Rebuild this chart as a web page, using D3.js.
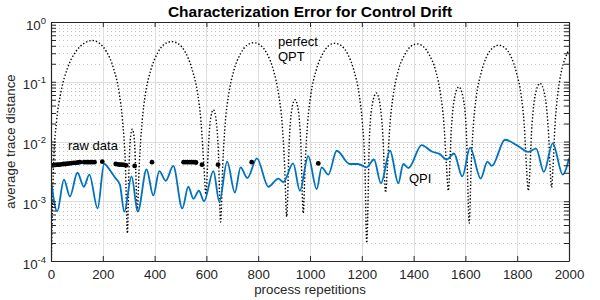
<!DOCTYPE html>
<html><head><meta charset="utf-8">
<script src="https://cdn.jsdelivr.net/npm/d3@7"></script>
<style>
body{margin:0;background:#fff;}
text{font-family:"Liberation Sans", Arial, Helvetica, sans-serif;}
</style></head><body>
<svg id="chart" width="600" height="300"></svg>
<script>
// ---------- data ----------
const title = "Characterization Error for Control Drift";
const xLabel = "process repetitions";
const yLabel = "average trace distance";
const xTicks = [0,200,400,600,800,1000,1200,1400,1600,1800,2000];
const yTickExps = [-4,-3,-2,-1,0];

// perfect QPT (dotted)
const qptX = [0,10,22,38,64,96,128,160,187,214,241,263,276,287,295,
  301,306,314,322,327,333,
  341,352,365,386,413,439,466,492,519,545,566,579,590,598,
  607,615,627,638,646,655,
  663,673,686,706,732,757,783,808,834,859,879,892,902,910,
  920,929,942,955,964,974,
  981,991,1003,1023,1048,1072,1097,1121,1146,1170,1190,1202,1212,1219,
  1230,1241,1256,1270,1281,1292,
  1299,1309,1321,1340,1365,1389,1413,1437,1461,1486,1505,1517,1527,1534,
  1546,1558,1575,1591,1603,1615,
  1622,1631,1642,1661,1683,1706,1729,1752,1775,1797,1816,1827,1836,1843,
  1857,1870,1888,1906,1919,1933,
  1938,1946,1955,1969,1987,2000];
const qptY = [5e-5,0.0043,0.023,0.066,0.17,0.32,0.44,0.49,0.44,0.32,0.17,0.066,0.023,0.0043,2.9e-4,
  0.0033,0.0105,0.016,0.0105,0.0033,7e-4,
  0.0042,0.022,0.064,0.16,0.31,0.43,0.47,0.43,0.31,0.16,0.064,0.022,0.0042,1.3e-3,
  0.007,0.022,0.034,0.022,0.007,4.5e-4,
  0.004,0.021,0.061,0.155,0.295,0.41,0.45,0.41,0.295,0.155,0.061,0.021,0.004,5.5e-4,
  0.0103,0.033,0.05,0.033,0.0103,6.3e-4,
  0.0039,0.021,0.06,0.152,0.288,0.40,0.44,0.40,0.288,0.152,0.06,0.021,0.0039,2e-4,
  0.0134,0.0425,0.065,0.0425,0.0134,1.4e-3,
  0.0038,0.020,0.058,0.149,0.28,0.39,0.43,0.39,0.28,0.149,0.058,0.020,0.0038,1.5e-3,
  0.017,0.054,0.082,0.054,0.017,4.3e-4,
  0.0036,0.0195,0.056,0.142,0.27,0.37,0.41,0.37,0.27,0.142,0.056,0.0195,0.0036,1.5e-3,
  0.019,0.0615,0.094,0.0615,0.019,1.7e-3,
  0.0035,0.019,0.054,0.138,0.26,0.34];

// QPI (blue)
const qpiX = [1,24,50,73,102,127,148,180,205,230,247,266,283,311,335,369,395,418,443,472,
  507,530,550,571,591,627,650,680,710,732,758,795,839,878,897,935,961,993,1026,1045,1071,
  1103,1154,1185,1219,1247,1274,1309,1341,1360,1380,1431,1470,1500,1528,1556,1588,1618,
  1659,1685,1702,1753,1798,1843,1873,1903,1937,1976,2000];
const qpiY = [2.1e-3,6.8e-4,2.3e-3,1.2e-3,3.0e-3,1.75e-3,2.8e-3,7.6e-4,4.2e-3,3.2e-3,2.5e-3,1.9e-3,6.7e-4,2.6e-3,6.7e-4,3.4e-3,1.25e-3,3.2e-3,2.2e-3,3.9e-3,
  7.6e-4,1.75e-3,1.1e-3,1.5e-3,1.0e-3,3.2e-3,9.8e-4,4.6e-3,1.4e-3,3.7e-3,2.45e-3,5.2e-3,1.75e-3,2.4e-3,2.1e-3,4.3e-3,1.5e-3,5.7e-3,1.6e-3,3.7e-3,2.8e-3,
  7.0e-3,4.2e-3,4.2e-3,3.7e-3,5.0e-3,2.0e-3,7.0e-3,2.0e-3,4.2e-3,3.6e-3,8.7e-3,6.8e-3,6.2e-3,5.0e-3,6.3e-3,2.6e-3,7.9e-3,
  2.4e-3,4.6e-3,3.9e-3,1.07e-2,8.7e-3,6.7e-3,7.6e-3,3.1e-3,9.3e-3,2.8e-3,5.2e-3];

// raw data (markers)
const rawX = [0,8,16,24,32,40,48,56,64,72,80,88,96,104,112,
  128,136,144,152,160,168,198,
  250,258,266,274,282,290,323,390,
  512,520,528,536,544,552,560,583,645,775,1032];
const rawY = [4.0e-3,4.0e-3,4.05e-3,4.1e-3,4.1e-3,4.15e-3,4.2e-3,4.2e-3,4.25e-3,4.3e-3,4.35e-3,4.4e-3,4.4e-3,4.45e-3,4.5e-3,
  4.5e-3,4.5e-3,4.5e-3,4.5e-3,4.5e-3,4.5e-3,4.6e-3,
  4.2e-3,4.15e-3,4.1e-3,4.1e-3,4.05e-3,4.0e-3,3.9e-3,4.5e-3,
  4.5e-3,4.5e-3,4.5e-3,4.5e-3,4.5e-3,4.5e-3,4.45e-3,4.1e-3,4.1e-3,4.5e-3,4.3e-3];

// ---------- layout ----------
const L = 51, R = 569, T = 22, B = 261;
const FS = 13.3;
const axisColor = "#262626";

const svg = d3.select("#chart");
svg.append("rect").attr("width",600).attr("height",300).attr("fill","#fff");

const x = d3.scaleLinear().domain([0,2000]).range([L,R]);
const y = d3.scaleLog().domain([1e-4,1]).range([B,T]);

const majorY = yTickExps.map(e => Math.pow(10,e));
const minorY = [];
for (let e = -4; e < 0; e++) for (let k = 2; k <= 9; k++) minorY.push(k*Math.pow(10,e));

// clip
svg.append("defs").append("clipPath").attr("id","clip")
  .append("rect").attr("x",L).attr("y",T).attr("width",R-L).attr("height",B-T);

// grid
const grid = svg.append("g");
grid.selectAll(".ymin").data(minorY).enter().append("line")
  .attr("x1",L).attr("x2",R).attr("y1",d=>Math.round(y(d))+0.5).attr("y2",d=>Math.round(y(d))+0.5)
  .attr("stroke","#c4c4c4").attr("stroke-width",1).attr("stroke-dasharray","1,3");
grid.selectAll(".ymaj").data(majorY).enter().append("line")
  .attr("x1",L).attr("x2",R).attr("y1",d=>Math.round(y(d))+0.5).attr("y2",d=>Math.round(y(d))+0.5)
  .attr("stroke","#dedede").attr("stroke-width",1);
grid.selectAll(".xmaj").data(xTicks).enter().append("line")
  .attr("y1",T).attr("y2",B).attr("x1",d=>Math.round(x(d))+0.5).attr("x2",d=>Math.round(x(d))+0.5)
  .attr("stroke","#dedede").attr("stroke-width",1);

// data
const plot = svg.append("g").attr("clip-path","url(#clip)");
const qpt = qptX.map((d,i)=>[d,qptY[i]]);
const qpi = qpiX.map((d,i)=>[d,qpiY[i]]);
const raw = rawX.map((d,i)=>[d,rawY[i]]);

plot.append("path").datum(qpt)
  .attr("d", d3.line().x(d=>x(d[0])).y(d=>y(d[1])).curve(d3.curveMonotoneX))
  .attr("fill","none").attr("stroke","#000").attr("stroke-width",1.4)
  .attr("stroke-dasharray","1.4,2");

plot.append("path").datum(qpi)
  .attr("d", d3.line().x(d=>x(d[0])).y(d=>y(d[1])).curve(d3.curveMonotoneX))
  .attr("fill","none").attr("stroke","#0072BD").attr("stroke-width",1.8);

plot.selectAll(".raw").data(raw).enter().append("circle")
  .attr("cx",d=>x(d[0])).attr("cy",d=>y(d[1])).attr("r",2.4).attr("fill","#000");

// axes
const tickLen = 5;
const ax = svg.append("g");
const xb = ax.append("g").attr("transform",`translate(0,${B})`)
  .call(d3.axisBottom(x).tickValues(xTicks).tickFormat(d3.format("d")).tickSizeInner(-tickLen).tickSizeOuter(0).tickPadding(8.5));
const xt = ax.append("g").attr("transform",`translate(0,${T})`)
  .call(d3.axisTop(x).tickValues(xTicks).tickFormat("").tickSizeInner(-tickLen).tickSizeOuter(0));
const yl = ax.append("g").attr("transform",`translate(${L},0)`)
  .call(d3.axisLeft(y).tickValues(majorY.concat(minorY)).tickFormat("").tickSizeInner(-tickLen).tickSizeOuter(0));
const yr = ax.append("g").attr("transform",`translate(${R},0)`)
  .call(d3.axisRight(y).tickValues(majorY.concat(minorY)).tickFormat("").tickSizeInner(-tickLen).tickSizeOuter(0));
[xb,xt,yl,yr].forEach(g=>{
  g.select(".domain").attr("stroke",axisColor).attr("stroke-width",1.2);
  g.selectAll(".tick line").attr("stroke",axisColor).attr("stroke-width",1);
  g.selectAll("text").attr("fill",axisColor).attr("font-size",FS).attr("font-family","Liberation Sans, Arial, sans-serif");
});

// y tick labels
const ylab = svg.append("g");
yTickExps.forEach(e=>{
  const ty = y(Math.pow(10,e));
  const t = ylab.append("text").attr("x",46).attr("y",ty+7.5).attr("text-anchor","end")
    .attr("fill",axisColor).attr("font-size",FS);
  t.append("tspan").text("10");
  t.append("tspan").attr("dy",-6).attr("font-size",9.5).text(String(e));
});

// labels
svg.append("text").attr("x",(L+R)/2).attr("y",16.5).attr("text-anchor","middle")
  .attr("font-weight","bold").attr("font-size",15.5).attr("fill","#000").text(title);
svg.append("text").attr("x",(L+R)/2).attr("y",294).attr("text-anchor","middle")
  .attr("font-size",FS).attr("fill",axisColor).text(xLabel);
svg.append("text").attr("transform",`translate(15,${(T+B)/2}) rotate(-90)`).attr("text-anchor","middle")
  .attr("font-size",FS).attr("fill",axisColor).text(yLabel);

// annotations
const ann = [["raw data",68,150],["perfect",278,46],["QPT",278,61],["QPI",409,183]];
ann.forEach(a=>svg.append("text").attr("x",a[1]).attr("y",a[2]).attr("font-size",13)
  .attr("fill","#000").text(a[0]));
</script>
</body></html>
